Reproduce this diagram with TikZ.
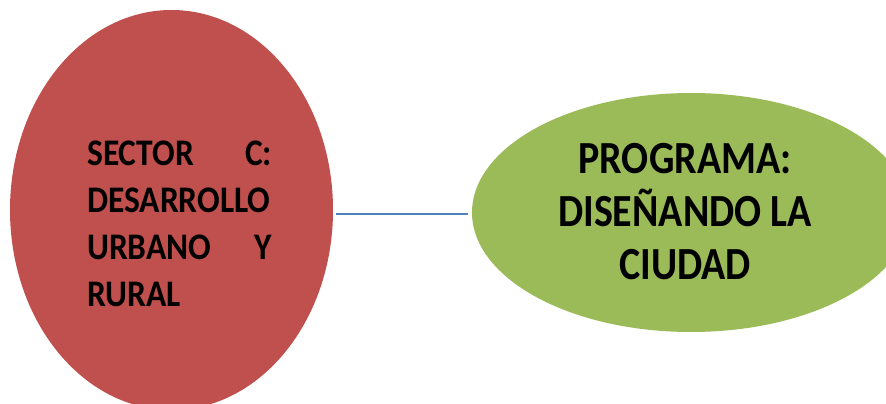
\documentclass[tikz,border=0pt]{standalone}
\usepackage{fontspec}
\usepackage{graphicx}
\setmainfont{Carlito}
\usetikzlibrary{shapes.geometric}
\definecolor{redfill}{HTML}{C0504D}
\definecolor{greenfill}{HTML}{9BBB59}
\definecolor{linkblue}{HTML}{4F81BD}
\tikzset{
  blob/.style={ellipse, draw=none, inner sep=0pt},
  label text/.style={inner sep=0pt, text=black},
  link/.style={draw=linkblue, line width=2.6pt, shorten <=3pt, shorten >=4pt}
}
\begin{document}
\begin{tikzpicture}[x=1pt,y=-1pt]
\useasboundingbox (0,0) rectangle (886,404);
\clip (0,0) rectangle (886,404);
\fill[white] (0,0) rectangle (886,404);
\node[blob, fill=redfill, minimum width=323pt, minimum height=400pt] (sector) at (171.5,210) {};
\node[blob, fill=greenfill, minimum width=438pt, minimum height=239pt] (programa) at (691,212.5) {};
\node[label text, anchor=base west] (sectortext) at (87,165)
  {\scalebox{1}[1.12]{\parbox[t]{185pt}{\bfseries\fontsize{33.5}{42}\selectfont
   SECTOR\hfill C:\\DESARROLLO\\URBANO\hfill Y\\RURAL}}};
\node[label text, anchor=base] (programatext) at (685,173)
  {\scalebox{1}[1.15]{\parbox[t]{280pt}{\centering\bfseries\fontsize{40}{46.5}\selectfont
   PROGRAMA:\\DISEÑANDO LA\\CIUDAD}}};
\coordinate (linky) at (0,214);
\draw[link] (sector.east |- linky) -- (programa.west |- linky);
\end{tikzpicture}
\end{document}
